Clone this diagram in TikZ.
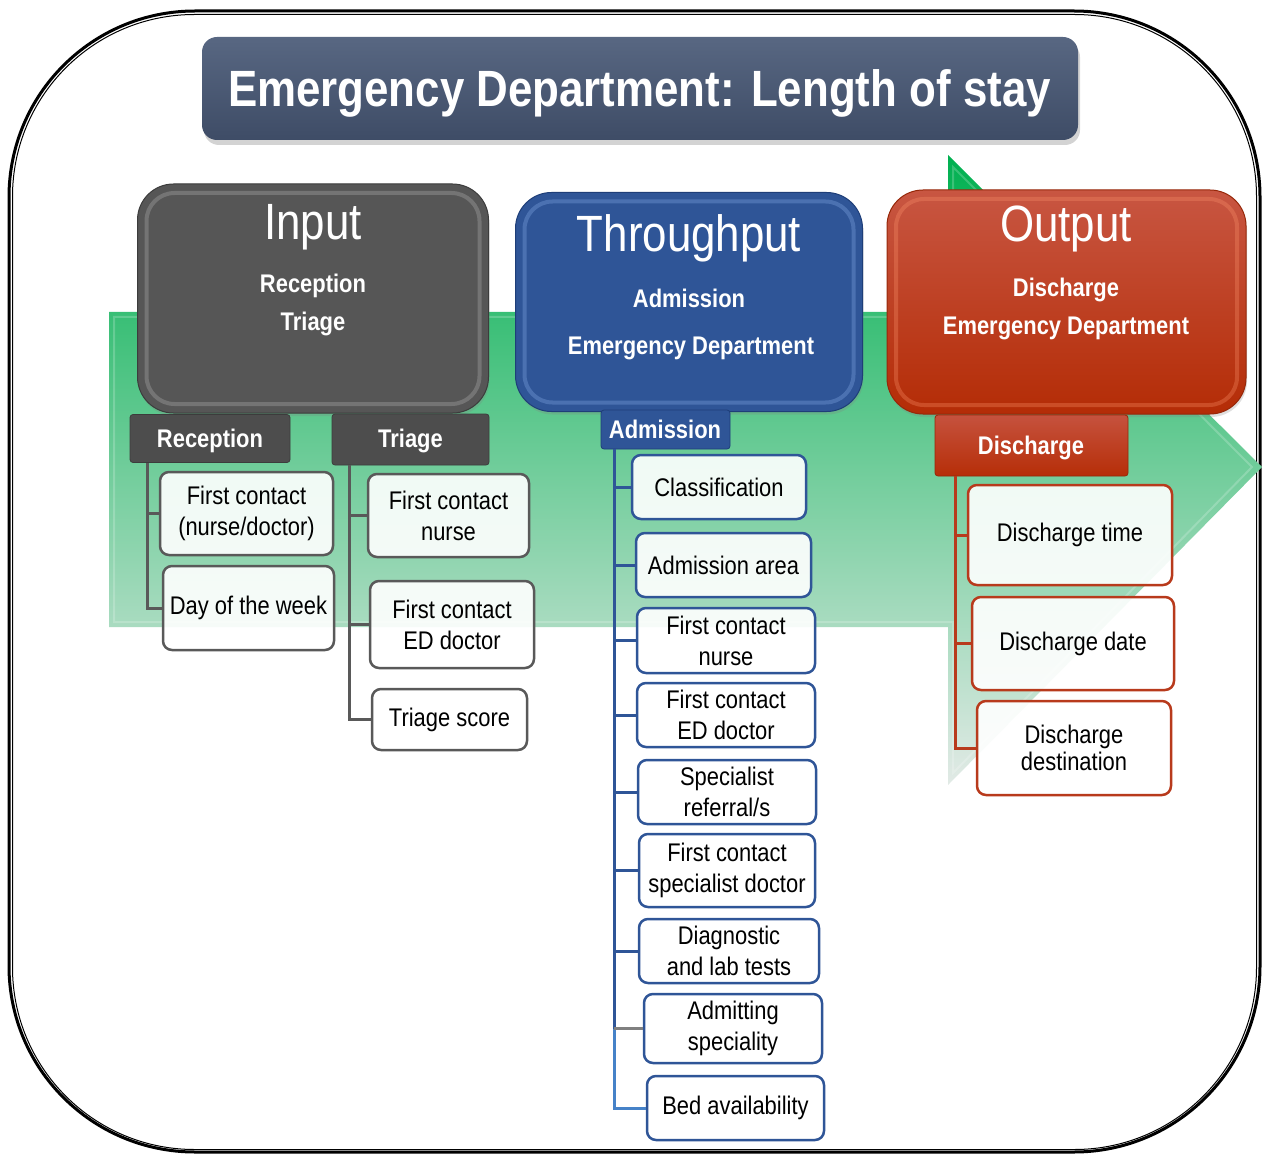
\documentclass[tikz,border=0pt]{standalone}
\usepackage{fontspec}
\setmainfont{Liberation Sans}[FakeStretch=0.86]
\usetikzlibrary{shadows}
\pgfdeclarelayer{bg}
\pgfsetlayers{bg,main}
\definecolor{greyline}{HTML}{595959}
\definecolor{blueline}{HTML}{2F5597}
\definecolor{redline}{HTML}{B83A1C}
\definecolor{arrowtop}{HTML}{00B050}
\definecolor{arrowbot}{HTML}{E2EAE6}
\definecolor{lightblueline}{HTML}{4682C8}
\definecolor{midgrey}{HTML}{808080}
\definecolor{titletop}{HTML}{586782}
\definecolor{titlebot}{HTML}{3E4C66}
\definecolor{inedge}{HTML}{3C3C3C}
\definecolor{infill}{HTML}{565656}
\definecolor{thedge}{HTML}{1E3E78}
\definecolor{thbev}{HTML}{8CB4F0}
\definecolor{outedge}{HTML}{96280A}
\definecolor{outtop}{HTML}{C85642}
\definecolor{outbot}{HTML}{B42C06}
\definecolor{outbev}{HTML}{FF966E}
\definecolor{headgrey}{HTML}{4D4D4D}
\definecolor{headtop}{HTML}{C6523E}
\definecolor{headbot}{HTML}{B62E08}
\begin{document}
\begin{tikzpicture}[x=1pt,y=-1pt,
  mainbox/.style={draw, line width=1pt, rounded corners=36pt, inner sep=0pt},
  bevel/.style={draw, line width=4pt, rounded corners=28pt, draw opacity=0.3, inner sep=0pt},
  bigtxt/.style={anchor=base, text=white, inner sep=0pt, font=\fontsize{51}{60}\selectfont},
  subtxt/.style={anchor=base, text=white, inner sep=0pt, font=\bfseries\fontsize{25.5}{30}\selectfont},
  headbox/.style={rounded corners=3pt, inner sep=0pt, draw, line width=0.8pt},
  leafbox/.style={draw, line width=2.5pt, rounded corners=9pt, fill=white, fill opacity=0.9, text opacity=1, draw opacity=1, align=center, inner sep=0pt, font=\fontsize{25.5}{31}\selectfont},
  gleaf/.style={leafbox, draw=greyline},
  bleaf/.style={leafbox, draw=blueline},
  rleaf/.style={leafbox, draw=redline},
  conn/.style={line width=3pt, line cap=butt}
]
\useasboundingbox (0,0) rectangle (1263,1155);
\begin{pgfonlayer}{bg}
% outer frame
\draw[line width=3pt, rounded corners=186pt] (9,11) rectangle (1260,1152);
\draw[line width=1pt, rounded corners=182pt] (12.5,14.5) rectangle (1256.5,1149.5);
% big green arrow
\shade[top color=arrowtop, bottom color=arrowbot]
  (109,312) -- (948,312) -- (948,155) -- (1262,467) -- (948,785) -- (948,627) -- (109,627) -- cycle;
\draw[white, line width=2pt, opacity=0.2] (114,317) -- (953,317) -- (953,167) -- (1252,467) -- (953,773) -- (953,622) -- (114,622) -- cycle;
\end{pgfonlayer}
% title
\node[mainbox, rounded corners=15pt, draw=none, minimum width=876pt, minimum height=103pt,
      top color=titletop, bottom color=titlebot,
      drop shadow={shadow xshift=2pt, shadow yshift=-5pt, opacity=0.35}] (titlebox) at (640,88.5) {};
\node[anchor=base, text=white, inner sep=0pt, font=\bfseries\fontsize{51}{60}\selectfont] (titletxt) at (639.5,107) {Emergency Department: Length of stay};
% input box
\node[mainbox, draw=inedge, fill=infill, minimum width=351pt, minimum height=229pt,
      drop shadow={shadow xshift=1pt, shadow yshift=-3pt, opacity=0.25}] (inbox) at (313,298.5) {};
\node[bevel, draw=white, draw opacity=0.18, minimum width=333pt, minimum height=211pt] (inbevel) at (313,298.5) {};
\node[bigtxt] (intitle) at (313,240) {Input};
\node[subtxt] (inrec) at (313,293) {Reception};
\node[subtxt] (intri) at (313,331) {Triage};
% throughput box
\node[mainbox, draw=thedge, fill=blueline, minimum width=347pt, minimum height=219pt,
      drop shadow={shadow xshift=1pt, shadow yshift=-3pt, opacity=0.25}] (thbox) at (689,302) {};
\node[bevel, draw=thbev, minimum width=329pt, minimum height=201pt] (thbevel) at (689,302) {};
\node[bigtxt] (thtitle) at (689,252) {Throughput};
\node[subtxt] (thadm) at (689,308) {Admission};
\node[subtxt] (thed) at (691,355) {Emergency Department};
% output box
\node[mainbox, draw=outedge, top color=outtop, bottom color=outbot,
      minimum width=359pt, minimum height=224pt,
      drop shadow={shadow xshift=1pt, shadow yshift=-3pt, opacity=0.25}] (outbox) at (1066.5,302) {};
\node[bevel, draw=outbev, minimum width=341pt, minimum height=206pt] (outbevel) at (1066.5,302) {};
\node[bigtxt] (outtitle) at (1066,242) {Output};
\node[subtxt] (outdis) at (1066,297) {Discharge};
\node[subtxt] (outed) at (1066,335) {Emergency Department};
% sub headers
\node[headbox, fill=headgrey, draw=inedge, minimum width=160pt, minimum height=48pt] (rechead) at (210,438.5) {};
\node[subtxt] (rectxt) at (210,447) {Reception};
\node[headbox, fill=headgrey, draw=inedge, minimum width=157pt, minimum height=51pt] (trihead) at (410.5,439.5) {};
\node[subtxt] (tritxt) at (410.5,447) {Triage};
\node[headbox, fill=blueline, draw=thedge, minimum width=129pt, minimum height=39pt] (admhead) at (665.5,429.5) {};
\node[subtxt] (admtxt) at (665,438) {Admission};
\node[headbox, top color=headtop, bottom color=headbot, draw=outedge, minimum width=193pt, minimum height=61pt] (dishead) at (1031.5,445.5) {};
\node[subtxt] (distxt) at (1031,454) {Discharge};
% trunk coordinates
\coordinate (rtrunk) at (147,463);
\coordinate (ttrunk) at (349,465);
\coordinate (atrunk) at (614,449);
\coordinate (dtrunk) at (955,476);
% reception leaves
\node[gleaf, minimum width=173pt, minimum height=83pt] (r1) at (246.5,513.5) {First contact\\(nurse/doctor)};
\node[gleaf, minimum width=171pt, minimum height=84pt] (r2) at (248.5,608) {Day of the week};
% triage leaves
\node[gleaf, minimum width=161pt, minimum height=83pt] (t1) at (448.5,515.5) {First contact\\nurse};
\node[gleaf, minimum width=164pt, minimum height=87pt] (t2) at (452,624.5) {First contact\\ED doctor};
\node[gleaf, minimum width=155pt, minimum height=61pt] (t3) at (449.5,719.5) {Triage score};
% admission leaves
\node[bleaf, minimum width=174pt, minimum height=64pt] (a1) at (719,487) {Classification};
\node[bleaf, minimum width=175pt, minimum height=64pt] (a2) at (723.5,565) {Admission area};
\node[bleaf, minimum width=178pt, minimum height=65pt] (a3) at (726,640.5) {First contact\\nurse};
\node[bleaf, minimum width=178pt, minimum height=64pt] (a4) at (726,715) {First contact\\ED doctor};
\node[bleaf, minimum width=178pt, minimum height=64pt] (a5) at (727,792) {Specialist\\referral/s};
\node[bleaf, minimum width=176pt, minimum height=73pt] (a6) at (727,870.5) {First contact\\specialist doctor};
\node[bleaf, minimum width=180pt, minimum height=64pt] (a7) at (729,951) {Diagnostic\\and lab tests};
\node[bleaf, minimum width=178pt, minimum height=69pt] (a8) at (733,1028.5) {Admitting\\speciality};
\node[bleaf, minimum width=177pt, minimum height=64pt] (a9) at (735.5,1108) {Bed availability};
% discharge leaves
\node[rleaf, minimum width=204pt, minimum height=100pt] (d1) at (1070,535) {Discharge time};
\node[rleaf, minimum width=202pt, minimum height=93pt] (d2) at (1073,643.5) {Discharge date};
\node[rleaf, minimum width=194pt, minimum height=94pt, font=\fontsize{25.5}{27}\selectfont] (d3) at (1074,748) {Discharge\\destination};
% connectors
\draw[conn, draw=greyline] (rtrunk) |- (r2.west);
\draw[conn, draw=greyline] (rtrunk |- r1.west) -- (r1.west);
\draw[conn, draw=greyline] (ttrunk) |- (t3.west);
\draw[conn, draw=greyline] (ttrunk |- t1.west) -- (t1.west);
\draw[conn, draw=greyline] (ttrunk |- t2.west) -- (t2.west);
\draw[conn, draw=blueline] (atrunk) -- (atrunk |- a8.west);
\draw[conn, draw=lightblueline] (atrunk |- a8.west) |- (a9.west);
\draw[conn, draw=midgrey] (atrunk |- a8.west) -- (a8.west);
\foreach \n in {a1,a2,a3,a4,a5,a6,a7}{
  \draw[conn, draw=blueline] (atrunk |- \n.west) -- (\n.west);
}
\draw[conn, draw=redline] (dtrunk) |- (d3.west);
\draw[conn, draw=redline] (dtrunk |- d1.west) -- (d1.west);
\draw[conn, draw=redline] (dtrunk |- d2.west) -- (d2.west);
\end{tikzpicture}
\end{document}
